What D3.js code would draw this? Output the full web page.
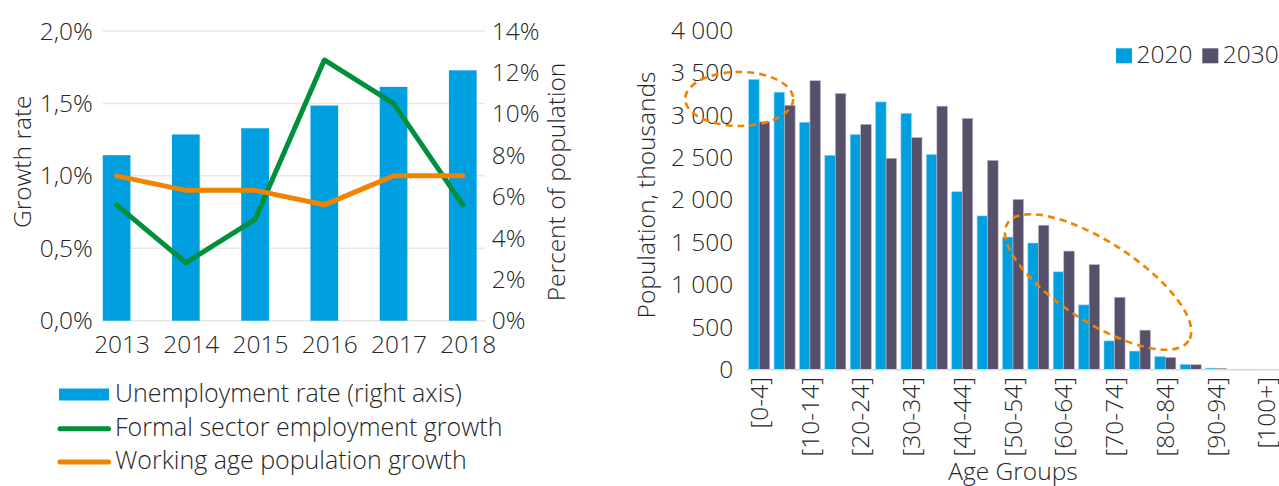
<!DOCTYPE html>
<html>
<head>
<meta charset="utf-8">
<script src="https://cdn.jsdelivr.net/npm/d3@7"></script>
<style>
  body { margin: 0; background: #fff; }
  svg text { font-family: "Open Sans", "Segoe UI", sans-serif; font-weight: 300; fill: #262626; font-size: 24.5px; }
  svg .legend text { font-size: 25px; }
</style>
</head>
<body>
<svg id="chart" width="1279" height="486"></svg>
<script>
// left panel data
const years = ["2013", "2014", "2015", "2016", "2017", "2018"];
const unemployment = [0.080, 0.090, 0.093, 0.104, 0.113, 0.121];
const formalGrowth = [0.008, 0.004, 0.007, 0.018, 0.015, 0.008];
const workingAgeGrowth = [0.010, 0.009, 0.009, 0.008, 0.010, 0.010];
const growthTicks = [0, 0.005, 0.01, 0.015, 0.02];
const percentTicks = [0, 0.02, 0.04, 0.06, 0.08, 0.10, 0.12, 0.14];

// right panel data
const ageGroups = ["[0-4]", "[5-9]", "[10-14]", "[15-19]", "[20-24]", "[25-29]", "[30-34]",
  "[35-39]", "[40-44]", "[45-49]", "[50-54]", "[55-59]", "[60-64]", "[65-69]", "[70-74]",
  "[75-79]", "[80-84]", "[85-89]", "[90-94]", "[95-99]", "[100+]"];
const pop2020 = [3420, 3270, 2915, 2525, 2770, 3155, 3020, 2535, 2095, 1810, 1560, 1490, 1150, 760, 335, 215, 150, 58, 14, 1, 0];
const pop2030 = [2920, 3115, 3405, 3255, 2890, 2490, 2735, 3105, 2960, 2465, 2005, 1700, 1395, 1235, 850, 462, 140, 54, 12, 1, 0];
const popTicks = [0, 500, 1000, 1500, 2000, 2500, 3000, 3500, 4000];
const popSeries = ["2020", "2030"];

// dashed ellipses drawn over the population bars
const highlights = [
  {group: "[0-4]", dx: -20, value: 3190, rx: 54, ry: 27, angle: 0},
  {group: "[65-69]", dx: 9, value: 1030, rx: 108, ry: 40, angle: 33}
];

const blue = "#009fdf", purple = "#57506b", green = "#008f3a", orange = "#f08300", grid = "#e6e6e6";
const locale = d3.formatLocale({decimal: ",", thousands: " ", grouping: [3], currency: ["", ""]});

const svg = d3.select("#chart");

/* ---------- left panel ---------- */
const xL = d3.scaleBand().domain(years).range([82, 497.4]);
const yGrowth = d3.scaleLinear().domain([0, 0.02]).range([320.7, 31]);
const yPct = d3.scaleLinear().domain([0, 0.14]).range([320.7, 31]);
const barW = 27.7;
const cx = d => xL(d) + xL.bandwidth() / 2;

const left = svg.append("g");

left.append("g").selectAll("line").data(growthTicks).join("line")
  .attr("x1", cx(years[0]) - barW / 2).attr("x2", 485)
  .attr("y1", d => yGrowth(d)).attr("y2", d => yGrowth(d))
  .attr("stroke", grid).attr("stroke-width", 1.5);

left.append("g").selectAll("rect").data(unemployment).join("rect")
  .attr("x", (d, i) => cx(years[i]) - barW / 2)
  .attr("width", barW)
  .attr("y", d => yPct(d))
  .attr("height", d => yPct(0) - yPct(d))
  .attr("fill", blue);

const lineOf = d3.line().x((d, i) => cx(years[i])).y(d => yGrowth(d));
left.append("path").datum(formalGrowth).attr("d", lineOf)
  .attr("fill", "none").attr("stroke", green).attr("stroke-width", 5)
  .attr("stroke-linejoin", "round").attr("stroke-linecap", "round");
left.append("path").datum(workingAgeGrowth).attr("d", lineOf)
  .attr("fill", "none").attr("stroke", orange).attr("stroke-width", 5)
  .attr("stroke-linejoin", "round").attr("stroke-linecap", "round");

// axes as plain text, excel style
left.append("g").selectAll("text").data(growthTicks).join("text")
  .attr("x", 92.7).attr("y", d => yGrowth(d)).attr("dy", "0.35em")
  .attr("text-anchor", "end").text(locale.format(".1%"));
left.append("g").selectAll("text").data(percentTicks).join("text")
  .attr("x", 491.7).attr("y", d => yPct(d)).attr("dy", "0.35em")
  .text(locale.format(".0%"));
left.append("g").selectAll("text").data(years).join("text")
  .attr("x", d => cx(d) + 5.5).attr("y", 344.5).attr("dy", "0.35em")
  .attr("text-anchor", "middle").text(d => d);

left.append("text").attr("transform", "translate(22.7,161.7) rotate(-90)")
  .attr("dy", "0.35em").attr("text-anchor", "middle").text("Growth rate");
left.append("text").attr("transform", "translate(556.7,182) rotate(-90)")
  .attr("dy", "0.35em").attr("text-anchor", "middle").text("Percent of population");

// legend
const legendItems = [
  {label: "Unemployment rate (right axis)", type: "bar", color: blue},
  {label: "Formal sector employment growth", type: "line", color: green},
  {label: "Working age population growth", type: "line", color: orange}
];
const legY = d3.scalePoint().domain(legendItems.map(d => d.label)).range([394.5, 461]);
const leg = left.append("g").attr("class", "legend").selectAll("g").data(legendItems).join("g")
  .attr("transform", d => `translate(0,${legY(d.label)})`);
leg.filter(d => d.type === "bar").append("rect")
  .attr("x", 59).attr("y", -6).attr("width", 50).attr("height", 12).attr("fill", d => d.color);
leg.filter(d => d.type === "line").append("line")
  .attr("x1", 60).attr("x2", 108.5).attr("y1", 1).attr("y2", 1)
  .attr("stroke", d => d.color).attr("stroke-width", 5).attr("stroke-linecap", "round");
leg.append("text").attr("x", 115).attr("y", -1).attr("dy", "0.35em").text(d => d.label);

/* ---------- right panel ---------- */
const x0 = d3.scaleBand().domain(ageGroups).range([746.5, 1279.5]).paddingInner(0.17).paddingOuter(0.085);
const x1 = d3.scaleBand().domain(popSeries).range([0, x0.bandwidth()]);
const yPop = d3.scaleLinear().domain([0, 4000]).range([369.3, 30.3]);
const popColor = d3.scaleOrdinal().domain(popSeries).range([blue, purple]);
const popBorder = d3.scaleOrdinal().domain(popSeries).range(["#8fd3f2", "#b9b6c4"]);

const right = svg.append("g");

const groups = right.append("g").selectAll("g").data(ageGroups).join("g")
  .attr("transform", d => `translate(${x0(d)},0)`);
groups.selectAll("rect")
  .data((d, i) => [{s: "2020", v: pop2020[i]}, {s: "2030", v: pop2030[i]}])
  .join("rect")
  .attr("x", d => x1(d.s))
  .attr("width", x1.bandwidth())
  .attr("y", d => yPop(d.v))
  .attr("height", d => yPop(0) - yPop(d.v))
  .attr("fill", d => popColor(d.s))
  .attr("stroke", d => popBorder(d.s)).attr("stroke-width", 0.6);

right.append("line").attr("x1", 746.5).attr("x2", 1279)
  .attr("y1", yPop(0) + 0.5).attr("y2", yPop(0) + 0.5)
  .attr("stroke", "#d9d9d9").attr("stroke-width", 1.5);

right.append("g").selectAll("text").data(popTicks).join("text")
  .attr("x", 733.3).attr("y", d => yPop(d)).attr("dy", "0.35em")
  .attr("text-anchor", "end").text(locale.format(",d"));

right.append("g").selectAll("text").data(ageGroups.filter((d, i) => i % 2 === 0)).join("text")
  .attr("transform", d => `translate(${x0(d) + x0.bandwidth() / 2},377) rotate(-90)`)
  .attr("dy", "0.35em").attr("text-anchor", "end").text(d => d);

right.append("text").attr("transform", "translate(646.7,195) rotate(-90)")
  .attr("dy", "0.35em").attr("text-anchor", "middle").text("Population, thousands");
right.append("text").attr("x", 1013).attr("y", 471).attr("dy", "0.35em")
  .attr("text-anchor", "middle").text("Age Groups");

// legend top right
const popLegX = d3.scaleOrdinal().domain(popSeries).range([1116, 1202.3]);
const pl = right.append("g").selectAll("g").data(popSeries).join("g")
  .attr("transform", d => `translate(${popLegX(d)},48.3)`);
pl.append("rect").attr("width", 16).attr("height", 15).attr("fill", d => popColor(d));
pl.append("text").attr("x", 20.5).attr("y", 6).attr("dy", "0.35em").text(d => d);

// annotations
right.append("g").selectAll("ellipse").data(highlights).join("ellipse")
  .attr("transform", d => `translate(${x0(d.group) + x0.bandwidth() / 2 + d.dx},${yPop(d.value)}) rotate(${d.angle})`)
  .attr("rx", d => d.rx).attr("ry", d => d.ry)
  .attr("fill", "none").attr("stroke", orange).attr("stroke-width", 2.6)
  .attr("stroke-dasharray", "7 5");
</script>
</body>
</html>
